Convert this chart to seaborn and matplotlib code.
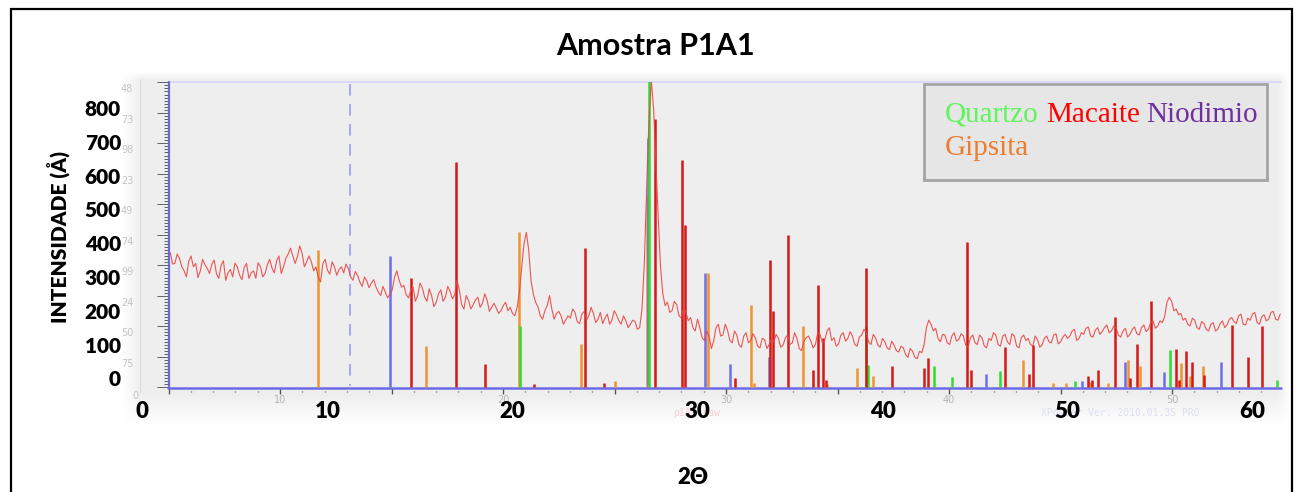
import numpy as np
import pandas as pd
import matplotlib
matplotlib.use("Agg")
import matplotlib.pyplot as plt
import seaborn as sns
from matplotlib.patches import Rectangle
from matplotlib.collections import LineCollection

# ---------------- data (2θ on the outer axis, intensity) ----------------
# pattern read every 0.25° starting at 1.5°, plus the readings half-way between them
theta_start, theta_step = 1.5, 0.25
pattern_intensity = [
    372, 340,
    355, 318, 346, 330,
    298, 352, 325, 338,
    309, 335, 290, 322,
    341, 305, 328, 296,
    318, 342, 300, 336,
    326, 348, 310, 355,
    385, 340, 392, 330,
    362, 318, 300, 340,
    320, 345, 305, 330,
    338, 300, 316, 285,
    300, 268, 292, 255,
    272, 238, 262, 318,
    270, 248, 260, 228,
    282, 240, 265, 212,
    250, 228, 272, 235,
    290, 218, 245, 205,
    232, 210, 250, 198,
    222, 192, 215, 200,
    192, 210, 330, 432,
    290, 225, 185, 200,
    245, 175, 198, 160,
    185, 205, 168, 190,
    172, 210, 165, 195,
    178, 160, 200, 170,
    185, 150, 172, 145,
    205, 560, 880, 640,
    330, 215, 195, 228,
    185, 210, 170, 150,
    175, 120, 140, 88,
    150, 125, 160, 112,
    140, 98, 125, 105,
    132, 95, 118, 88,
    115, 130, 92, 120,
    100, 135, 88, 110,
    125, 90, 135, 105,
    140, 112, 95, 128,
    110, 138, 100, 122,
    145, 108, 130, 98,
    118, 90, 110, 82,
    95, 70, 88, 62,
    80, 100, 172, 140,
    118, 130, 105, 125,
    110, 132, 98, 120,
    105, 128, 96, 118,
    135, 100, 125, 108,
    132, 95, 120, 112,
    100, 125, 92, 118,
    108, 128, 102, 122,
    118, 140, 112, 135,
    148, 125, 142, 130,
    150, 135, 155, 128,
    140, 122, 145, 132,
    150, 138, 165, 148,
    170, 182, 240, 200,
    188, 172, 160, 178,
    150, 168, 145, 160,
    140, 162, 150, 175,
    168, 185, 160, 178,
    190, 165, 182, 170,
    195, 175, 190,
]
pattern_intensity_mid = [
    338, 368, 330, 300, 362, 340, 318, 336, 310, 350,
    296, 348, 312, 300, 330, 292, 340, 312, 296, 330,
    310, 352, 312, 362, 330, 368, 362, 360, 370, 345,
    345, 330, 285, 352, 308, 330, 322, 312, 325, 290,
    305, 272, 288, 282, 270, 245, 255, 248, 300, 290,
    275, 238, 270, 245, 268, 228, 245, 225, 262, 240,
    258, 248, 262, 205, 230, 218, 240, 222, 232, 210,
    208, 200, 225, 210, 185, 255, 400, 380, 250, 212,
    175, 215, 205, 192, 185, 172, 178, 195, 162, 198,
    185, 192, 175, 162, 190, 172, 188, 160, 170, 160,
    168, 150, 340, 760, 800, 480, 250, 225, 200, 218,
    178, 195, 180, 140, 150, 112, 125, 110, 160, 128,
    142, 105, 128, 92, 135, 112, 120, 90, 115, 100,
    108, 118, 98, 128, 105, 118, 82, 120, 110, 100,
    130, 112, 150, 120, 102, 135, 118, 125, 95, 128,
    135, 100, 120, 92, 108, 85, 98, 78, 90, 62,
    80, 58, 76, 150, 160, 148, 108, 128, 100, 135,
    115, 125, 92, 128, 100, 120, 90, 112, 128, 95,
    130, 100, 125, 90, 128, 118, 95, 115, 98, 125,
    105, 132, 108, 130, 125, 145, 118, 130, 152, 122,
    150, 138, 158, 140, 150, 122, 148, 130, 152, 128,
    158, 145, 170, 155, 165, 225, 228, 205, 192, 178,
    155, 172, 145, 162, 140, 165, 145, 170, 158, 180,
    162, 190, 158, 172, 195, 160, 188, 175, 198, 172,
]

n_main = len(pattern_intensity)
n_mid = min(len(pattern_intensity_mid), n_main - 1)
theta_main = theta_start + theta_step * np.arange(n_main)
theta_mid = theta_start + theta_step * (np.arange(n_mid) + 0.5)
two_theta = np.round(np.concatenate([theta_main, theta_mid]), 3)
intensity = np.concatenate([np.array(pattern_intensity, float),
                            np.array(pattern_intensity_mid[:n_mid], float)])
order = np.argsort(two_theta)
two_theta, intensity = two_theta[order], intensity[order]

macaite_pos = [14.54, 16.95, 18.5, 21.17, 23.91, 24.95, 27.69, 29.15, 29.35, 32.05,
               33.91, 34.07, 34.9, 36.25, 36.54, 36.77, 36.95, 39.12, 40.54, 42.27,
               42.47, 44.58, 44.77, 46.6, 47.9, 48.16, 51.1, 51.3, 51.64, 52.58,
               53.4, 53.75, 54.5, 55.84, 56.05, 56.41, 56.74, 57.4, 58.88, 59.77, 60.52]
macaite_int = [297, 639, 42, -17, 386, -14, 768, 645, 455, 1,
               351, 200, 425, 25, 275, 119, -4, 326, 36, 30,
               60, 403, 25, 93, 13, 99, 7, -5, 25, 181,
               1, 102, 228, 88, -5, 80, 48, 11, 159, 62, 154]

quartzo_pos = [20.4, 27.38, 39.1, 39.24, 42.76, 43.73, 46.36, 50.38, 55.55, 61.3]
quartzo_int = [155, 880, 155, 40, 36, 4, 22, -9, 85, -5]

niodimio_pos = [13.39, 27.33, 30.43, 31.78, 33.86, 45.6, 50.79, 53.1, 55.24, 58.29]
niodimio_int = [363, 711, 312, 42, 63, 13, -9, 47, 18, 47]

gipsita_pos = [9.48, 15.31, 20.34, 23.68, 25.55, 27.28, 30.58, 32.9, 33.03, 35.71,
               37.0, 38.63, 39.48, 47.6, 49.2, 49.9, 51.2, 52.2, 53.26, 53.9,
               56.14, 56.6, 57.3]
gipsita_int = [381, 96, 433, 101, -8, 543, 312, 218, -14, 155,
               -17, 30, 7, 54, -14, -14, -11, -14, 53, 36,
               45, 7, 36]

baseline = -26
x_ticks = [0, 10, 20, 30, 40, 50, 60]
y_ticks = [0, 100, 200, 300, 400, 500, 600, 700, 800]
inner_y_labels = ["48", "73", "98", "23", "49", "74", "99", "24", "50", "75"]
inner_x_labels = ["10", "20", "30", "40", "50"]
title = "Amostra P1A1"
ylabel = "INTENSIDADE (Å)"
xlabel = "2Θ"
legend_words = [("Quartzo", "#5cf55c"), ("Macaite", "#ff0000"), ("Niodimio", "#7030a0")]
legend_word2 = ("Gipsita", "#ed7d31")

# ---------------- figure ----------------
sns.set_theme(style="white")
plt.rcParams["font.family"] = ["Lato", "DejaVu Sans"]

W, H = 1300, 492
fig = plt.figure(figsize=(13, 4.92), dpi=100)
fig.patch.set_facecolor("white")


def fx(px):
    return px / W


def fy(py):
    return 1 - py / H


# background / decoration axes in pixel coordinates
ax_bg = fig.add_axes([0, 0, 1, 1])
ax_bg.set_xlim(0, W)
ax_bg.set_ylim(H, 0)
ax_bg.axis("off")
ax_bg.set_zorder(0)

xs = np.arange(W) + 0.5
ys = np.arange(H) + 0.5
mx = np.clip((xs - 122) / 20, 0, 1) * np.clip((1290 - xs) / 12, 0, 1)
my = np.clip((ys - 72) / 8, 0, 1) * np.clip((425 - ys) / 32, 0, 1)
img = np.ones((H, W, 4))
img[..., :3] = 0.937
img[..., 3] = my[:, None] * mx[None, :]
ax_bg.imshow(img, extent=(0, W, H, 0), aspect="auto", interpolation="bilinear", zorder=0)

# faint original-software axis line
ax_bg.plot([140, 140], [80, 392], color="#dcdcdc", lw=0.8, zorder=1)
# top frame line
ax_bg.plot([168, 1281], [82, 82], color="#dadaf8", lw=1.4, zorder=2)
# inner left axis and its ruler ticks
ax_bg.plot([168.5, 168.5], [82, 388], color="#6b6be6", lw=1.6, zorder=3)
segs = []
for k in range(0, 101):
    py = 387.3 - k * 3.05
    ln = 11 if k % 10 == 0 else 4
    segs.append([(168 - ln, py), (168, py)])
ax_bg.add_collection(LineCollection(segs, colors="#606060", linewidths=0.7, zorder=3))
for i, lab in enumerate(inner_y_labels):
    py = 82.3 + i * 30.5 + 7
    ax_bg.text(127, py, lab, color="#c4c4c4", fontsize=7, ha="center", va="center",
               family="DejaVu Sans", zorder=2)
ax_bg.text(135, 396, "0", color="#c4c4c4", fontsize=7, ha="center", va="center",
           family="DejaVu Sans", zorder=2)
# baseline
ax_bg.plot([168, 1281], [387.5, 387.5], color="#6b6be6", lw=1.8, zorder=3)
# inner x ticks
segs = []
for d in range(5, 55):
    px = 168.5 + (d - 5) * 22.3
    if d % 5 == 0:
        segs.append([(px, 388.5), (px, 394)])
    else:
        segs.append([(px, 390.5), (px, 392)])
ax_bg.add_collection(LineCollection(segs, colors="#555555", linewidths=1.0, zorder=3))
for j, lab in enumerate(inner_x_labels):
    px = 168.5 + (10 * (j + 1) - 5) * 22.3
    ax_bg.text(px, 400, lab, color="#b4b4b4", fontsize=7, ha="center", va="center",
               family="DejaVu Sans", zorder=2)
ax_bg.text(697, 413, "p1A1.raw", color="#f6d2d2", fontsize=7, ha="center", va="center",
           family="DejaVu Sans Mono", zorder=2)
ax_bg.text(1120, 413, "XPowder Ver. 2010.01.35 PRO", color="#dedef5", fontsize=7,
           ha="center", va="center", family="DejaVu Sans Mono", zorder=2)
# cursor dashed line
ax_bg.plot([350, 350], [84, 386], color="#9c9cf0", lw=1.2, dashes=(7, 5), zorder=3)

# ---------------- main data axes ----------------
L, R, T, B = 130, 1281, 82, 388
ax = fig.add_axes([fx(L), fy(B), fx(R) - fx(L), fy(T) - fy(B)])
ax.set_zorder(1)
ax.patch.set_alpha(0)
ax.set_xlim((L - 142.5) / 18.5, (R - 142.5) / 18.5)
ax.set_ylim((378.3 - B) * 2.9595, (378.3 - T) * 2.9595)
for s in ax.spines.values():
    s.set_visible(False)
ax.grid(False)

ax.vlines(gipsita_pos, baseline, gipsita_int, colors="#f0932c", lw=1.8, zorder=3)
ax.vlines(niodimio_pos, baseline, niodimio_int, colors="#6e6ee8", lw=1.8, zorder=3)
ax.vlines(quartzo_pos, baseline, quartzo_int, colors="#2fdc2f", lw=1.8, zorder=3)
ax.vlines(macaite_pos, baseline, macaite_int, colors="#d41818", lw=1.8, zorder=4)

df = pd.DataFrame({"two_theta": two_theta, "intensity": intensity})
sns.lineplot(data=df, x="two_theta", y="intensity", ax=ax, color="#ec4444",
             lw=0.8, alpha=0.9, estimator=None, sort=False, zorder=5)

ax.set_xticks(x_ticks)
ax.set_yticks(y_ticks)
ax.set_xticklabels([str(v) for v in x_ticks])
ax.set_yticklabels([str(v) for v in y_ticks])
ax.tick_params(axis="x", length=0, pad=9.5)
ax.tick_params(axis="y", length=0, pad=6.5)
for lbl in ax.get_xticklabels():
    lbl.set_fontweight("heavy")
    lbl.set_fontsize(16)
    lbl.set_color("black")
    lbl.set_zorder(6)
for lbl in ax.get_yticklabels():
    lbl.set_fontweight("heavy")
    lbl.set_fontsize(15)
    lbl.set_color("black")
ax.set_xlabel("")
ax.set_ylabel("")

# ---------------- texts ----------------
fig.text(fx(655), fy(55), title, ha="center", va="baseline", fontsize=22,
         fontweight="bold", color="black")
fig.text(fx(59), fy(237), ylabel, rotation=90, ha="center", va="center",
         fontsize=15, fontweight="heavy", color="black")
fig.text(fx(693), fy(478), xlabel, ha="center", va="center", fontsize=16,
         fontweight="heavy", color="black", family=["Lato", "DejaVu Sans"])

# legend box
fig.add_artist(Rectangle((fx(923.7), fy(179.7)), fx(1267.3) - fx(923.7), fy(84) - fy(179.7),
                         transform=fig.transFigure, facecolor="#e6e6e6", edgecolor="#a4a4a4",
                         lw=2, zorder=10))
renderer = fig.canvas.get_renderer()
xpos = 945
for word, col in legend_words:
    t = fig.text(fx(xpos), fy(122), word, color=col, fontsize=21, va="baseline", ha="left",
                 family=["Liberation Serif", "DejaVu Serif"], zorder=11)
    bb = t.get_window_extent(renderer)
    xpos = bb.x1 + 7
fig.text(fx(945), fy(154.7), legend_word2[0], color=legend_word2[1], fontsize=21,
         va="baseline", ha="left", family=["Liberation Serif", "DejaVu Serif"], zorder=11)

# outer frame
fig.add_artist(Rectangle((fx(11), fy(520)), fx(1292) - fx(11), fy(9) - fy(520),
                         transform=fig.transFigure, fill=False, edgecolor="black",
                         lw=1.6, zorder=12, clip_on=False))

fig.savefig("out.png", dpi=100)
